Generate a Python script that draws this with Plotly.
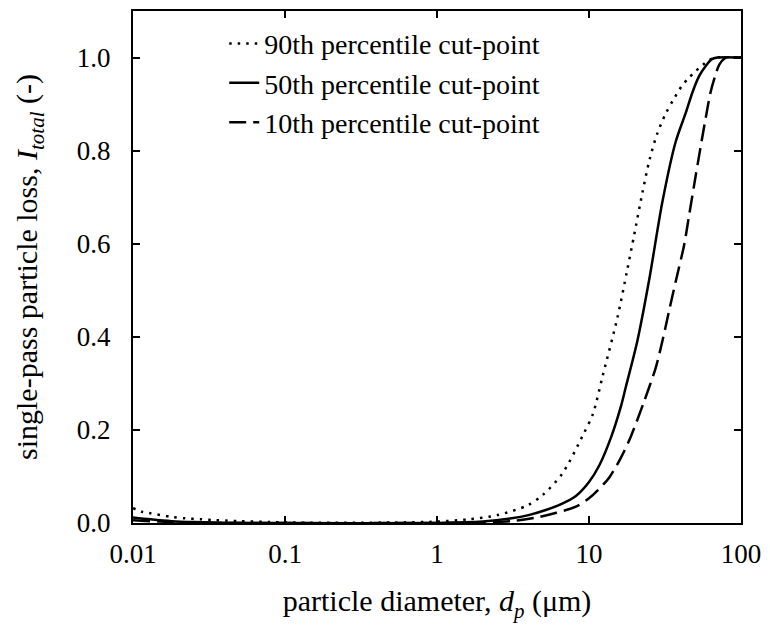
import plotly.graph_objects as go

# 90th percentile cut-point (dotted)
d90 = [0.01, 0.0115, 0.013, 0.018, 0.022, 0.028, 0.035, 0.05, 0.08, 0.15, 0.5, 1.0, 1.63, 2.5, 3.95,
       4.96, 6.7, 9.1, 10.6, 12.3, 15.4, 17.7, 19.8, 22.5, 25.0, 28.0, 32.0, 36.0, 41.0, 45.0, 50.0, 56.0, 62.0, 68.0, 100.0]
l90 = [0.032, 0.024, 0.021, 0.013, 0.010, 0.008, 0.006, 0.004, 0.002, 0.0005, 0.001, 0.003, 0.008, 0.017, 0.038,
       0.060, 0.107, 0.188, 0.234, 0.316, 0.442, 0.538, 0.618, 0.711, 0.780, 0.835, 0.880, 0.910, 0.940, 0.955, 0.970, 0.984, 0.995, 1.0, 1.0]

# 50th percentile cut-point (solid)
d50 = [0.01, 0.013, 0.018, 0.025, 0.04, 0.1, 1.0, 2.0, 3.1, 4.0, 5.2, 6.5, 8.2, 10.0, 11.7, 14.0, 16.2, 17.4, 20.8,
       24.9, 30.4, 37.1, 43.4, 47.9, 53.0, 58.6, 64.0, 70.0, 100.0]
l50 = [0.012, 0.008, 0.004, 0.002, 0.0005, 0.0, 0.0, 0.003, 0.010, 0.017, 0.028, 0.040, 0.058, 0.088, 0.124, 0.185, 0.250, 0.290, 0.391,
       0.523, 0.690, 0.818, 0.882, 0.925, 0.960, 0.982, 0.996, 1.0, 1.0]

# 10th percentile cut-point (dashed)
d10 = [0.01, 0.015, 0.025, 0.05, 1.0, 2.0, 3.3, 4.7, 6.1, 8.2, 10.0, 11.4, 13.6, 16.2, 18.8, 23.1, 27.5,
       30.4, 33.6, 37.2, 42.3, 45.5, 50.4, 55.7, 58.6, 63.0, 68.0, 72.0, 78.0, 82.0, 100.0]
l10 = [0.006, 0.003, 0.001, 0.0, 0.0, 0.001, 0.005, 0.013, 0.022, 0.035, 0.053, 0.070, 0.098, 0.140, 0.185, 0.262, 0.334,
       0.391, 0.455, 0.519, 0.598, 0.660, 0.747, 0.830, 0.870, 0.925, 0.963, 0.985, 0.998, 1.0, 1.0]

names = ["90th percentile cut-point", "50th percentile cut-point", "10th percentile cut-point"]

x_ticks = [0.01, 0.1, 1, 10, 100]
x_ticktext = ["0.01", "0.1", "1", "10", "100"]
y_ticks = [0.0, 0.2, 0.4, 0.6, 0.8, 1.0]

FONT = "Liberation Serif, Times New Roman, serif"

fig = go.Figure()
fig.add_trace(go.Scatter(x=d90, y=l90, mode="lines", name=names[0],
                         line=dict(color="black", width=2.5, dash="2.5px,6px", shape="spline", smoothing=0.8)))
fig.add_trace(go.Scatter(x=d50, y=l50, mode="lines", name=names[1],
                         line=dict(color="black", width=2.5, shape="spline", smoothing=0.8)))
fig.add_trace(go.Scatter(x=d10, y=l10, mode="lines", name=names[2],
                         line=dict(color="black", width=2.5, dash="17px,7px", shape="spline", smoothing=0.8)))

axis_common = dict(showline=True, linecolor="black", linewidth=2, mirror="ticks",
                   ticks="inside", ticklen=7, tickwidth=2, tickcolor="black",
                   showgrid=False, zeroline=False, ticklabeloverflow="allow",
                   tickfont=dict(family=FONT, size=27, color="black"))

fig.update_xaxes(type="log", range=[-2, 2], tickvals=x_ticks, ticktext=x_ticktext,
                 ticklabelstandoff=6,
                 title=dict(text="particle diameter, <i>d</i><sub><i>p</i></sub> (\u03bcm)",
                            font=dict(family=FONT, size=30, color="black"), standoff=22),
                 **axis_common)
fig.update_yaxes(range=[0, 1.10], tickvals=y_ticks, tickformat=".1f",
                 ticklabelstandoff=15,
                 title=dict(text="single-pass particle loss, <i>I</i><sub><i>total</i></sub> (-)",
                            font=dict(family=FONT, size=30, color="black"), standoff=30),
                 **axis_common)

fig.update_layout(
    width=754, height=624,
    margin=dict(l=125, r=20, t=1, b=109),
    plot_bgcolor="white", paper_bgcolor="white",
    font=dict(family=FONT, color="black"),
    showlegend=True,
    legend=dict(x=0.15, y=0.985, xanchor="left", yanchor="top",
                bgcolor="rgba(0,0,0,0)", font=dict(family=FONT, size=28, color="black"),
                tracegroupgap=0),
)

fig.write_html("out.html")
